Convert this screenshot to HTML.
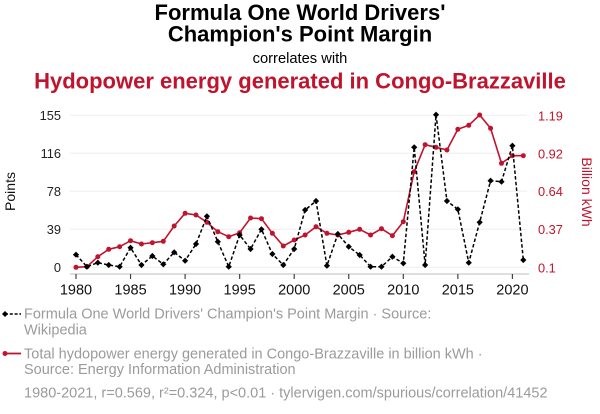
<!DOCTYPE html>
<html><head><meta charset="utf-8"><style>
html,body{margin:0;padding:0;background:#fff;}
svg{display:block;}
text{font-family:"Liberation Sans",Arial,sans-serif;}
</style></head><body>
<svg width="600" height="414" viewBox="0 0 600 414" xmlns="http://www.w3.org/2000/svg">
<defs>
<marker id="dm" markerUnits="userSpaceOnUse" markerWidth="8" markerHeight="8" refX="4" refY="4" overflow="visible">
<path d="M4 0.9 L7.1 4 L4 7.1 L0.9 4 Z" fill="#000"/>
</marker>
<marker id="rm" markerUnits="userSpaceOnUse" markerWidth="8" markerHeight="8" refX="4" refY="4" overflow="visible">
<circle cx="4" cy="4" r="2.5" fill="#c0142e"/>
</marker>
</defs>
<rect width="600" height="414" fill="#fff"/>
<text x="300" y="20" text-anchor="middle" font-size="22" font-weight="bold" fill="#000">Formula One World Drivers'</text>
<text x="300" y="41.5" text-anchor="middle" font-size="22" font-weight="bold" fill="#000">Champion's Point Margin</text>
<text x="300" y="63" text-anchor="middle" font-size="14.7" fill="#000">correlates with</text>
<text x="300" y="88.5" text-anchor="middle" font-size="22" font-weight="bold" fill="#c0142e">Hydopower energy generated in Congo-Brazzaville</text>
<g stroke="#eeeeee" stroke-width="1">
<line x1="70" x2="527" y1="115.3" y2="115.3"/>
<line x1="70" x2="527" y1="153.3" y2="153.3"/>
<line x1="70" x2="527" y1="191.3" y2="191.3"/>
<line x1="70" x2="527" y1="229.3" y2="229.3"/>
<line x1="70" x2="527" y1="267.3" y2="267.3"/>
</g>
<line x1="70" x2="529" y1="274" y2="274" stroke="#cccccc" stroke-width="1.2"/>
<g stroke="#444" stroke-width="1.2">
<line x1="76" x2="76" y1="274" y2="279"/>
<line x1="130.55" x2="130.55" y1="274" y2="279"/>
<line x1="185.1" x2="185.1" y1="274" y2="279"/>
<line x1="239.65" x2="239.65" y1="274" y2="279"/>
<line x1="294.2" x2="294.2" y1="274" y2="279"/>
<line x1="348.75" x2="348.75" y1="274" y2="279"/>
<line x1="403.3" x2="403.3" y1="274" y2="279"/>
<line x1="457.85" x2="457.85" y1="274" y2="279"/>
<line x1="512.4" x2="512.4" y1="274" y2="279"/>
</g>
<g font-size="14.5" fill="#111" text-anchor="middle">
<text x="76" y="294.5">1980</text>
<text x="130.55" y="294.5">1985</text>
<text x="185.1" y="294.5">1990</text>
<text x="239.65" y="294.5">1995</text>
<text x="294.2" y="294.5">2000</text>
<text x="348.75" y="294.5">2005</text>
<text x="403.3" y="294.5">2010</text>
<text x="457.85" y="294.5">2015</text>
<text x="512.4" y="294.5">2020</text>
</g>
<g font-size="12.8" fill="#222" text-anchor="end">
<text x="61" y="120">155</text>
<text x="61" y="158">116</text>
<text x="61" y="196">78</text>
<text x="61" y="234">39</text>
<text x="61" y="272">0</text>
</g>
<g font-size="12.8" fill="#c0142e" text-anchor="start">
<text x="538" y="120.3">1.19</text>
<text x="538" y="158.5">0.92</text>
<text x="538" y="196">0.64</text>
<text x="538" y="234">0.37</text>
<text x="538" y="272.3">0.1</text>
</g>
<text transform="translate(15,191.5) rotate(-90)" text-anchor="middle" font-size="14" fill="#111">Points</text>
<text transform="translate(582,192) rotate(90)" text-anchor="middle" font-size="14" fill="#c0142e">Billion kWh</text>
<polyline fill="none" stroke="#c0142e" stroke-width="1.6" stroke-linejoin="round" marker-start="url(#rm)" marker-mid="url(#rm)" marker-end="url(#rm)" points="76,267.3 86.91,266.7 97.82,256.7 108.73,249.3 119.64,246.7 130.55,240.7 141.46,244 152.37,242.7 163.28,241.3 174.19,226 185.1,213.3 196.01,215 206.92,222.3 217.83,231.7 228.74,236.7 239.65,232.7 250.56,218 261.47,218.7 272.38,233.3 283.29,246 294.2,240 305.11,235 316.02,226.7 326.93,233.3 337.84,235 348.75,232.3 359.66,229.3 370.57,235 381.48,228.7 392.39,235.7 403.3,221.7 414.21,171.7 425.12,144.7 436.03,147.3 446.94,150 457.85,129.3 468.76,125.3 479.67,115 490.58,128.3 501.49,163.3 512.4,155.7 523.31,155.7"/>
<polyline fill="none" stroke="#000" stroke-width="1.5" stroke-dasharray="3.5,2.2" stroke-linejoin="round" marker-start="url(#dm)" marker-mid="url(#dm)" marker-end="url(#dm)" points="76,254.7 86.91,266.7 97.82,262.7 108.73,265 119.64,266.7 130.55,247.7 141.46,265 152.37,256 163.28,264.3 174.19,252.3 185.1,260.7 196.01,244 206.92,216.3 217.83,241.7 228.74,266.7 239.65,235 250.56,249 261.47,229.3 272.38,254 283.29,265 294.2,249 305.11,210 316.02,201 326.93,265.7 337.84,234 348.75,246.7 359.66,255 370.57,266.7 381.48,266.7 392.39,256.7 403.3,263.3 414.21,147.3 425.12,265 436.03,114.7 446.94,201 457.85,209.3 468.76,262.7 479.67,222.3 490.58,180.7 501.49,181.7 512.4,145.7 523.31,260"/>
<line x1="5" x2="21" y1="314" y2="314" stroke="#000" stroke-width="1.5" stroke-dasharray="3,1.8"/>
<path d="M5 311 L8 314 L5 317 L2 314 Z" fill="#000"/>
<text x="24" y="318.7" font-size="14.5" fill="#9b9b9b">Formula One World Drivers' Champion's Point Margin · Source:</text>
<text x="24" y="334.3" font-size="14.5" fill="#9b9b9b">Wikipedia</text>
<line x1="5" x2="21" y1="353.5" y2="353.5" stroke="#c0142e" stroke-width="1.8"/>
<circle cx="5" cy="353.5" r="2.5" fill="#c0142e"/>
<text x="24" y="358.7" font-size="14.5" fill="#9b9b9b">Total hydopower energy generated in Congo-Brazzaville in billion kWh ·</text>
<text x="24" y="374.2" font-size="14.5" fill="#9b9b9b">Source: Energy Information Administration</text>
<text x="24" y="397.3" font-size="14.5" fill="#9b9b9b">1980-2021, r=0.569, r²=0.324, p&lt;0.01 · tylervigen.com/spurious/correlation/41452</text>
</svg>
</body></html>
